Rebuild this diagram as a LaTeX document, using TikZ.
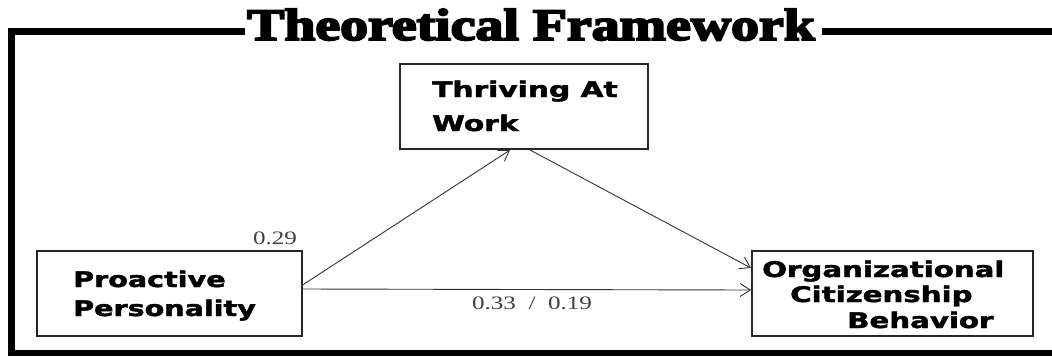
\documentclass[tikz,border=0pt]{standalone}
\usepackage{fontspec}
\setmainfont{DejaVu Sans}
\newfontfamily\boxfont[FakeBold=1.8]{DejaVu Sans}
\newfontfamily\titlefont[FakeBold=4]{Liberation Serif}
\newfontfamily\labfont{Liberation Serif}
\usetikzlibrary{arrows.meta}
\begin{document}
\begin{tikzpicture}[x=1pt,y=-1pt,
  box/.style={draw=black!85,line width=1.4pt,rectangle,inner sep=0pt},
  boxtext/.style={anchor=base west,inner sep=0pt,font=\boxfont\fontsize{21.5}{21.5}\selectfont\bfseries},
  lab/.style={inner sep=0pt,text=black!75,font=\labfont\fontsize{19}{19}\selectfont},
  frame/.style={line width=7pt,black},
  conn/.style={draw=black!80,line width=0.9pt,-{Straight Barb[length=10pt,width=13pt,line width=0.9pt]}}
]
\useasboundingbox (0,0) rectangle (1052,357);
% frame
\draw[frame] (11.5,28) -- (11.5,353);
\draw[frame] (8,31.5) -- (245,31.5);
\draw[frame] (822,31.5) -- (1052,31.5);
\draw[line width=6pt] (8,353) -- (1052,353);
\node[anchor=base,inner sep=0pt] (title) at (531,40) {\scalebox{1.24}[1]{\titlefont\bfseries\fontsize{45}{45}\selectfont Theoretical Framework}};
% boxes
\node[box,minimum width=248pt,minimum height=85pt] (taw) at (524,106.5) {};
\node[box,minimum width=265pt,minimum height=85pt] (pp) at (169.5,293.5) {};
\node[box,minimum width=281pt,minimum height=85pt] (ocb) at (892.5,293.5) {};
% texts
\node[boxtext] (t1) at (432,97) {\scalebox{1.38}[1]{Thriving At}};
\node[boxtext] (t2) at (432,131) {\scalebox{1.38}[1]{Work}};
\node[boxtext] (p1) at (73,287) {\scalebox{1.33}[1]{Proactive}};
\node[boxtext] (p2) at (73,316) {\scalebox{1.33}[1]{Personality}};
\node[boxtext] (o1) at (762,277) {\scalebox{1.36}[1]{Organizational}};
\node[boxtext] (o2) at (790,302) {\scalebox{1.36}[1]{Citizenship}};
\node[boxtext] (o3) at (847,328) {\scalebox{1.36}[1]{Behavior}};
% connectors
\coordinate (ppR1) at (301,286);
\coordinate (ppR2) at (302,289);
\coordinate (tawB1) at (510,150);
\coordinate (tawB2) at (530,150);
\coordinate (ocbL1) at (751,268);
\coordinate (ocbL2) at (751,290);
\draw[conn] (ppR1) -- (tawB1);
\draw[conn] (tawB2) -- (ocbL1);
\draw[conn] (ppR2) -- (ocbL2);
% labels
\node[lab] (l1) at (275,238) {\scalebox{1.32}[1]{0.29}};
\node[lab] (l2) at (532,303) {\scalebox{1.32}[1]{0.33\ \ /\ \ 0.19}};
\end{tikzpicture}
\end{document}
